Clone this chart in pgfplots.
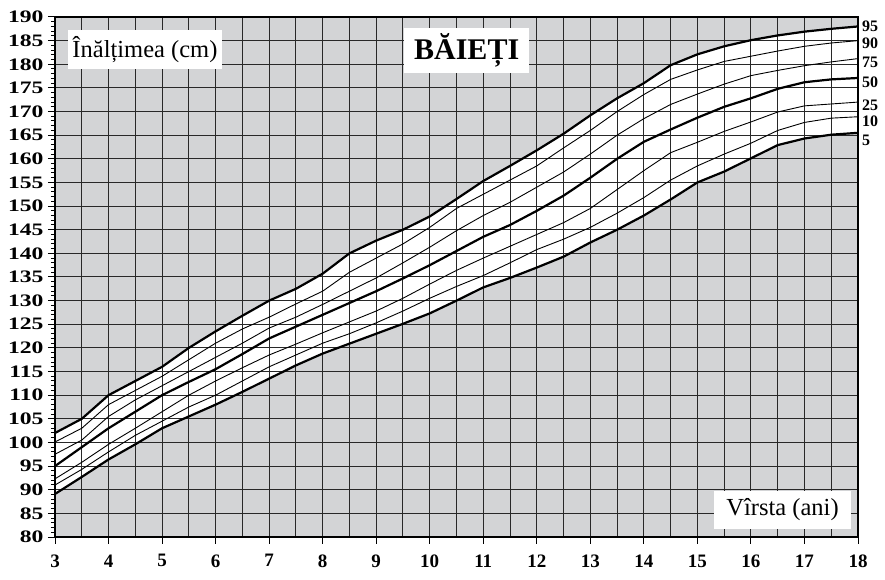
\documentclass[border=0pt]{standalone}
\usepackage{pgfplots}
\pgfplotsset{compat=1.18}
\usepackage{pgfplotstable}
\usepgfplotslibrary{fillbetween}
\usepackage{fontspec}
\setmainfont{Liberation Serif}
\definecolor{bggray}{RGB}{211,212,214}
\definecolor{gridc}{RGB}{40,40,40}

\pgfplotstableread{
age  p5    p10   p25   p50   p75   p90   p95
3.0  89.1  91.0  92.3  95.0  97.5  100.1 102.0
3.5  92.7  94.3  95.8  99.0  100.5 103.0 105.0
4.0  96.4  98.0  99.6  103.0 105.5 108.0 110.0
4.5  99.6  101.5 103.0 106.5 109.0 111.0 113.0
5.0  103.0 104.5 106.5 110.0 112.0 114.0 116.0
5.5  105.5 107.5 110.0 112.8 115.0 117.5 120.0
6.0  108.0 110.0 113.0 115.5 118.0 121.0 123.5
6.5  110.7 113.0 115.8 118.7 121.0 124.0 126.8
7.0  113.5 116.0 118.5 122.0 124.2 126.5 130.0
7.5  116.3 118.5 120.8 124.5 126.5 129.3 132.5
8.0  118.8 121.0 123.2 127.0 129.2 132.0 135.7
8.5  120.9 123.0 125.5 129.5 132.0 136.0 140.0
9.0  123.0 125.3 127.8 132.0 134.8 139.0 142.7
9.5  125.1 127.8 130.5 134.7 138.0 142.0 145.0
10.0 127.3 130.5 133.5 137.5 141.3 145.5 147.8
10.5 130.0 133.0 136.4 140.5 144.8 149.5 151.5
11.0 132.8 135.3 139.0 143.5 148.0 152.5 155.3
11.5 134.8 138.0 141.5 146.0 150.8 155.5 158.5
12.0 137.0 140.8 144.0 149.0 154.0 158.5 161.8
12.5 139.3 143.0 146.5 152.2 157.2 162.3 165.3
13.0 142.3 145.5 149.5 156.0 161.0 166.0 169.2
13.5 145.0 148.5 153.5 160.0 165.0 170.0 172.8
14.0 148.0 151.8 157.5 163.6 168.5 173.6 176.0
14.5 151.4 155.5 161.3 166.2 171.5 176.8 179.8
15.0 155.0 158.5 163.5 168.7 173.7 178.8 182.1
15.5 157.3 161.0 165.8 171.0 175.8 180.6 183.8
16.0 160.1 163.3 167.8 172.8 177.6 181.7 185.1
16.5 162.9 166.0 169.9 174.8 178.7 182.8 186.1
17.0 164.3 167.7 171.2 176.2 179.7 183.8 186.9
17.5 165.1 168.6 171.6 176.8 180.5 184.5 187.5
18.0 165.5 168.9 172.0 177.1 181.2 185.0 188.0
}\data

\begin{document}
\begin{tikzpicture}
\begin{axis}[
  set layers,
  width=803bp, height=520bp, scale only axis,
  xmin=3, xmax=18, ymin=80, ymax=190,
  axis background/.style={fill=bggray},
  axis line style={line width=2bp, black},
  xtick={3,4,...,18},
  ytick={80,85,...,190},
  minor y tick num=4,
  extra x ticks={3.5,4.5,...,17.5},
  extra x tick labels={},
  extra x tick style={major tick length=0pt, xmajorgrids=true},
  xmajorgrids=true, ymajorgrids=true,
  major grid style={gridc, line width=1bp},
  tick align=outside,
  xtick pos=bottom, ytick pos=left,
  major tick length=7bp, minor tick length=4bp,
  every tick/.style={black, line width=1bp},
  /pgf/number format/assume math mode=true,
  xticklabel style={font=\fontsize{19bp}{20bp}\selectfont\bfseries, yshift=-7bp},
  yticklabel={\scalebox{1.35}[1]{\bfseries\pgfmathprintnumber{\tick}}},
  yticklabel style={font=\fontsize{17.5bp}{18bp}\selectfont, xshift=-1bp},
  clip=false,
]
\addplot[draw=none, name path=top, forget plot] table[x=age, y=p95] {\data};
\addplot[draw=none, name path=bot, forget plot] table[x=age, y=p5] {\data};
\addplot[fill=white, draw=none] fill between[of=top and bot, on layer=axis background];

\addplot[black, line width=0.9bp, sharp plot] table[x=age, y=p10] {\data};
\addplot[black, line width=0.9bp, sharp plot] table[x=age, y=p25] {\data};
\addplot[black, line width=0.9bp, sharp plot] table[x=age, y=p75] {\data};
\addplot[black, line width=0.9bp, sharp plot] table[x=age, y=p90] {\data};
\addplot[black, line width=2.2bp, sharp plot] table[x=age, y=p5] {\data};
\addplot[black, line width=2.2bp, sharp plot] table[x=age, y=p50] {\data};
\addplot[black, line width=2.2bp, sharp plot] table[x=age, y=p95] {\data};

\coordinate (ll) at (rel axis cs:0,0);
\coordinate (ur) at (rel axis cs:1,1);
\coordinate (t1) at (axis cs:4.68,183.1);
\coordinate (t2) at (axis cs:10.69,183.0);
\coordinate (t3) at (axis cs:16.59,85.8);
\coordinate (r95) at (axis cs:18,188.0);
\coordinate (r90) at (axis cs:18,184.4);
\coordinate (r75) at (axis cs:18,180.5);
\coordinate (r50) at (axis cs:18,176.3);
\coordinate (r25) at (axis cs:18,171.4);
\coordinate (r10) at (axis cs:18,167.9);
\coordinate (r5) at (axis cs:18,164.0);
\end{axis}
\node[fill=white, inner sep=0pt, minimum width=154bp, minimum height=39bp,
  font=\fontsize{24.5bp}{28bp}\selectfont] at (t1) {Înălțimea (cm)};
\node[fill=white, inner sep=0pt, minimum width=125bp, minimum height=45bp,
  font=\fontsize{30bp}{32bp}\selectfont\bfseries] at (t2) {BĂIEȚI};
\node[fill=white, inner sep=0pt, minimum width=137bp, minimum height=38bp,
  font=\fontsize{24.5bp}{28bp}\selectfont] at (t3) {Vîrsta (ani)};
\foreach \n in {95,90,75,50,25,10,5}{
  \node[anchor=west, inner sep=0pt, xshift=4bp, font=\fontsize{16bp}{17bp}\selectfont\bfseries] at (r\n) {\n};
}
\pgfresetboundingbox
\path ([shift={(-55bp,-43bp)}]ll) rectangle ([shift={(27bp,17bp)}]ur);
\end{tikzpicture}
\end{document}
